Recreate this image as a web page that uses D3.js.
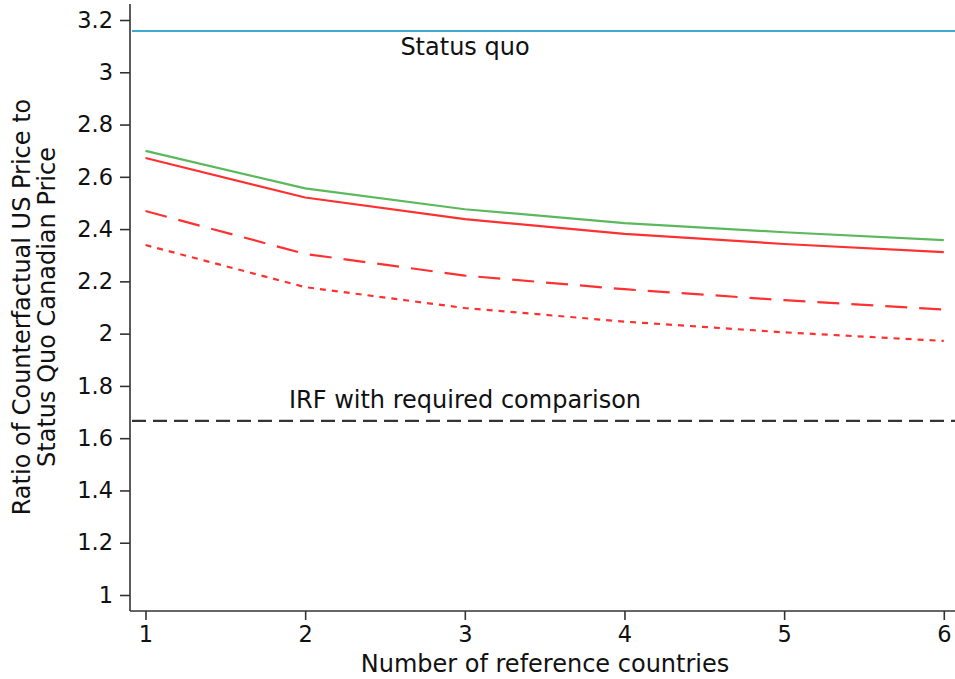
<!DOCTYPE html>
<html>
<head>
<meta charset="utf-8">
<script src="https://cdn.jsdelivr.net/npm/d3@7"></script>
<style>
  body { margin: 0; background: #fff; }
  text { font-family: "DejaVu Sans", sans-serif; fill: #111; }
  .axis path, .axis line { stroke: #333; stroke-width: 1.6px; }
  .axis text { font-size: 22.5px; font-family: "DejaVu Sans", sans-serif; fill: #111; }
</style>
</head>
<body>
<div class="chart"></div>
<script>
// number of reference countries
const countries = [1, 2, 3, 4, 5, 6];

// ratio of counterfactual US price to status quo Canadian price
const greenSeries = [2.699, 2.556, 2.476, 2.423, 2.388, 2.358];
const redSolid = [2.672, 2.521, 2.438, 2.382, 2.343, 2.312];
const redDashed = [2.469, 2.305, 2.222, 2.170, 2.128, 2.092];
const redDotted = [2.339, 2.178, 2.098, 2.046, 2.005, 1.972];

const statusQuo = 3.158;
const irfRequired = 1.666;

const yTicks = [1, 1.2, 1.4, 1.6, 1.8, 2, 2.2, 2.4, 2.6, 2.8, 3, 3.2];

const width = 955, height = 679;

const svg = d3.select(".chart")
  .append("svg")
  .attr("width", width)
  .attr("height", height);

const xScale = d3.scaleLinear().domain([1, 6]).range([145.5, 943.8]);
const yScale = d3.scaleLinear().domain([1, 3.2]).range([595, 20]);

const axisX = 130, axisY = 611;

// axes
const xAxis = svg.append("g")
  .attr("class", "axis x-axis")
  .attr("transform", `translate(0,${axisY})`)
  .call(d3.axisBottom(xScale).tickValues(countries).tickFormat(d3.format("d")).tickSize(9).tickSizeOuter(0).tickPadding(6));
xAxis.select(".domain").attr("d", `M${axisX},0H${width}`);

const yAxis = svg.append("g")
  .attr("class", "axis y-axis")
  .attr("transform", `translate(${axisX},0)`)
  .call(d3.axisLeft(yScale).tickValues(yTicks).tickFormat(d => d3.format("~g")(d)).tickSize(10).tickSizeOuter(0).tickPadding(7));
yAxis.select(".domain").attr("d", `M0,4V${axisY}`);

// reference lines
svg.append("line")
  .attr("x1", axisX + 2).attr("x2", width)
  .attr("y1", yScale(statusQuo)).attr("y2", yScale(statusQuo))
  .attr("stroke", "#3fa9d0").attr("stroke-width", 2);

svg.append("line")
  .attr("x1", axisX + 2).attr("x2", width)
  .attr("y1", yScale(irfRequired)).attr("y2", yScale(irfRequired))
  .attr("stroke", "#333").attr("stroke-width", 2.2)
  .attr("stroke-dasharray", "14,7");

svg.append("text")
  .attr("x", 465).attr("y", 55)
  .attr("text-anchor", "middle")
  .attr("font-size", "24px")
  .text("Status quo");

svg.append("text")
  .attr("x", 465).attr("y", 408)
  .attr("text-anchor", "middle")
  .attr("font-size", "24px")
  .text("IRF with required comparison");

// series lines
const line = d3.line()
  .x((d, i) => xScale(countries[i]))
  .y(d => yScale(d));

const series = [
  { values: greenSeries, color: "#5cb85c", dash: null },
  { values: redSolid, color: "#ff3030", dash: null },
  { values: redDashed, color: "#ff3030", dash: "22,12" },
  { values: redDotted, color: "#ff3030", dash: "6,6" }
];

svg.selectAll(".series")
  .data(series)
  .enter()
  .append("path")
  .attr("class", "series")
  .attr("fill", "none")
  .attr("stroke", d => d.color)
  .attr("stroke-width", 2.2)
  .attr("stroke-dasharray", d => d.dash)
  .attr("d", d => line(d.values));

// axis titles
svg.append("text")
  .attr("x", 545).attr("y", 672)
  .attr("text-anchor", "middle")
  .attr("font-size", "24px")
  .text("Number of reference countries");

const yTitle = svg.append("text")
  .attr("transform", "translate(30,307) rotate(-90)")
  .attr("text-anchor", "middle")
  .attr("font-size", "24px");
yTitle.append("tspan").attr("x", 0).attr("dy", 0).text("Ratio of Counterfactual US Price to");
yTitle.append("tspan").attr("x", 0).attr("dy", 25).text("Status Quo Canadian Price");
</script>
</body>
</html>
